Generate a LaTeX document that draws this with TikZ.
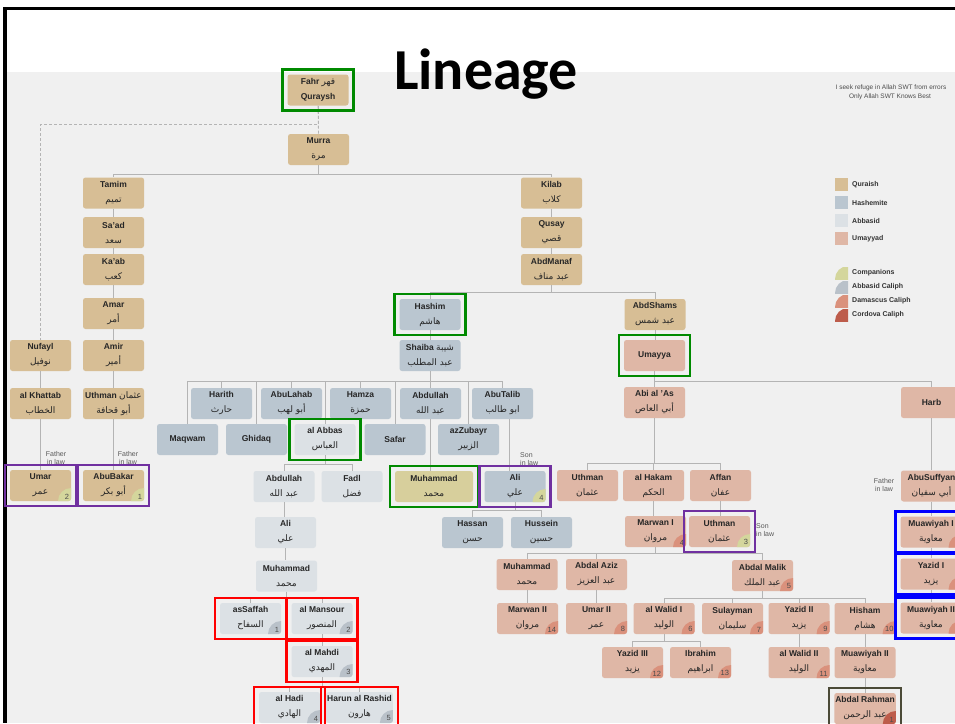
\documentclass[tikz,border=0pt]{standalone}
\usepackage{fontspec}
\setmainfont{Liberation Sans}
\newfontfamily\arabicfont[Script=Arabic]{DejaVu Sans}
\newfontfamily\titlefont{Carlito}
\TeXXeTstate=1
\usetikzlibrary{fit}

\definecolor{Slide}{HTML}{F0F0F0}
\definecolor{Quraish}{HTML}{D7BE95}
\definecolor{Hashemite}{HTML}{BAC6D0}
\definecolor{Abbasid}{HTML}{DCE1E5}
\definecolor{Umayyad}{HTML}{DFB7A6}
\definecolor{Prophet}{HTML}{D7CF9C}
\definecolor{Companion}{HTML}{D4D69C}
\definecolor{AbbasCal}{HTML}{B9C1C9}
\definecolor{DamasCal}{HTML}{DA917C}
\definecolor{CordCal}{HTML}{BD5C4B}
\definecolor{FrameGreen}{HTML}{008A00}
\definecolor{FramePurple}{HTML}{7030A0}
\definecolor{FrameRed}{HTML}{FF0000}
\definecolor{FrameBlue}{HTML}{0000FF}
\definecolor{FrameOlive}{HTML}{4B4A37}
\definecolor{Link}{HTML}{B4B4B4}

\newcommand{\arb}[1]{{\arabicfont\mdseries\fontsize{9}{15}\selectfont\beginR #1\endR}}

\begin{document}
\begin{tikzpicture}[x=1pt, y=-1pt,
  box/.style={fill=#1, rounded corners=2.5pt, minimum width=61pt, minimum height=31pt,
    inner sep=1pt, align=center, text=black!85, font=\bfseries\fontsize{8.5}{15}\selectfont},
  cal/.style 2 args={path picture={\fill[#1] (path picture bounding box.south east) circle (13pt);},
    label={[num]south east:#2}},
  num/.style={anchor=south east, inner sep=2pt, font=\fontsize{7.5}{8}\selectfont, text=black!70},
  frame/.style={draw=#1, line width=2.4pt, inner sep=4.8pt},
  link/.style={draw=Link, line width=0.8pt},
  dlink/.style={link, dash pattern=on 3pt off 2pt},
  note/.style={font=\fontsize{7}{8}\selectfont, text=black!65, inner sep=0pt},
  legend/.style={font=\bfseries\fontsize{7}{8}\selectfont, text=black!80, anchor=west, inner sep=0pt}]

  %%%%%%%%%% Slide %%%%%%%%%%
  \useasboundingbox (0,0) rectangle (955,723);
  \clip (0,0) rectangle (955,723);
  \fill[white] (0,0) rectangle (955,723);
  \fill[Slide] (7,72) rectangle (955,723);
  \fill[black] (3,7) rectangle (955,10);
  \fill[black] (3,7) rectangle (6.5,723);

  \node[font=\titlefont\bfseries\fontsize{58}{60}\selectfont, anchor=base] (title) at (486,89) {Lineage};
  \node[note, font=\fontsize{6.5}{7.5}\selectfont, text=black!70] (refuge) at (891,88) {I seek refuge in Allah SWT from errors};
  \node[note, font=\fontsize{6.5}{7.5}\selectfont, text=black!70] (best) at (890,97) {Only Allah SWT Knows Best};

  %%%%%%%%%% Legend %%%%%%%%%%
  \foreach \c/\t [count=\i] in {Quraish/Quraish, Hashemite/Hashemite, Abbasid/Abbasid, Umayyad/Umayyad} {
    \fill[\c] (835,160+18*\i) rectangle ++(13,13);
    \node[legend] (leg\i) at (852,166.5+18*\i) {\t};
  }
  \foreach \c/\t [count=\i] in {Companion/Companions, AbbasCal/Abbasid Caliph, DamasCal/Damascus Caliph, CordCal/Cordova Caliph} {
    \begin{scope}
      \clip (835,265+14*\i-12) rectangle (848,265+14*\i);
      \fill[\c] (848,265+14*\i) circle (13pt);
    \end{scope}
    \node[legend] (cleg\i) at (852,259+14*\i) {\t};
  }

  %%%%%%%%%% Quraish %%%%%%%%%%
  \node[box=Quraish] (fahr) at (318,90) {Fahr \arb{فهر}\\Quraysh};
  \node[box=Quraish] (murra) at (318.5,149.5) {Murra\\\arb{مرة}};
  \node[box=Quraish] (tamim) at (113.5,193) {Tamim\\\arb{تميم}};
  \node[box=Quraish] (saad) at (113.5,232.5) {Sa'ad\\\arb{سعد}};
  \node[box=Quraish] (kaab) at (113.5,269.5) {Ka'ab\\\arb{كعب}};
  \node[box=Quraish] (amar) at (113.5,313.5) {Amar\\\arb{أمر}};
  \node[box=Quraish] (amir) at (113.5,355.5) {Amir\\\arb{أمير}};
  \node[box=Quraish] (uthmanq) at (113.5,403.5) {Uthman \arb{عثمان}\\\arb{أبو قحافة}};
  \node[box=Quraish, cal={Companion}{1}] (abubakar) at (113.5,485.5) {AbuBakar\\\arb{أبو بكر}};
  \node[box=Quraish] (nufayl) at (40.5,355.5) {Nufayl\\\arb{نوفيل}};
  \node[box=Quraish] (khattab) at (40.5,403.5) {al Khattab\\\arb{الخطاب}};
  \node[box=Quraish, cal={Companion}{2}] (umar) at (40.5,485.5) {Umar\\\arb{عمر}};
  \node[box=Quraish] (kilab) at (551.5,193) {Kilab\\\arb{كلاب}};
  \node[box=Quraish] (qusay) at (551.5,232.5) {Qusay\\\arb{قصي}};
  \node[box=Quraish] (abdmanaf) at (551.5,269.5) {AbdManaf\\\arb{عبد مناف}};
  \node[box=Quraish] (abdshams) at (655,314.5) {AbdShams\\\arb{عبد شمس}};

  %%%%%%%%%% Hashemite %%%%%%%%%%
  \node[box=Hashemite] (hashim) at (430,314.5) {Hashim\\\arb{هاشم}};
  \node[box=Hashemite] (shaiba) at (430,355.5) {Shaiba \arb{شيبة}\\\arb{عبد المطلب}};
  \node[box=Hashemite] (harith) at (221.5,403.5) {Harith\\\arb{حارث}};
  \node[box=Hashemite] (abulahab) at (291.5,403.5) {AbuLahab\\\arb{أبو لهب}};
  \node[box=Hashemite] (hamza) at (360.5,403.5) {Hamza\\\arb{حمزة}};
  \node[box=Hashemite] (abdullah) at (430.5,403.5) {Abdullah\\\arb{عبد الله}};
  \node[box=Hashemite] (abutalib) at (502.5,403.5) {AbuTalib\\\arb{ابو طالب}};
  \node[box=Hashemite] (maqwam) at (187.5,439.5) {Maqwam};
  \node[box=Hashemite] (ghidaq) at (256.5,439.5) {Ghidaq};
  \node[box=Abbasid] (abbas) at (325,439.5) {al Abbas\\\arb{العباس}};
  \node[box=Hashemite] (safar) at (395,439.5) {Safar};
  \node[box=Hashemite] (zubayr) at (468.5,439.5) {azZubayr\\\arb{الزبير}};
  \node[box=Prophet, minimum width=78pt] (muhammad) at (434,486.5) {Muhammad\\\arb{محمد}};
  \node[box=Hashemite, cal={Companion}{4}] (ali) at (515,486.5) {Ali\\\arb{علي}};
  \node[box=Hashemite] (hassan) at (472.5,532.5) {Hassan\\\arb{حسن}};
  \node[box=Hashemite] (hussein) at (541.5,532.5) {Hussein\\\arb{حسين}};

  %%%%%%%%%% Abbasid %%%%%%%%%%
  \node[box=Abbasid] (abdullahb) at (284,486.5) {Abdullah\\\arb{عبد الله}};
  \node[box=Abbasid] (fadl) at (352,486.5) {Fadl\\\arb{فضل}};
  \node[box=Abbasid] (alib) at (285.5,532.5) {Ali\\\arb{علي}};
  \node[box=Abbasid] (muhammadb) at (286.5,576) {Muhammad\\\arb{محمد}};
  \node[box=Abbasid, cal={AbbasCal}{1}] (saffah) at (250.5,618.5) {asSaffah\\\arb{السفاح}};
  \node[box=Abbasid, cal={AbbasCal}{2}] (mansour) at (322,618.5) {al Mansour\\\arb{المنصور}};
  \node[box=Abbasid, cal={AbbasCal}{3}] (mahdi) at (322,661.5) {al Mahdi\\\arb{المهدي}};
  \node[box=Abbasid, cal={AbbasCal}{4}] (hadi) at (289.5,707.5) {al Hadi\\\arb{الهادي}};
  \node[box=Abbasid, cal={AbbasCal}{5}, minimum width=65pt] (harun) at (359.5,707.5) {Harun al Rashid\\\arb{هارون}};

  %%%%%%%%%% Umayyad %%%%%%%%%%
  \node[box=Umayyad] (umayya) at (654.5,355.5) {Umayya};
  \node[box=Umayyad] (abias) at (654.5,402.5) {Abi al 'As\\\arb{أبي العاص}};
  \node[box=Umayyad] (harb) at (931.5,402.5) {Harb};
  \node[box=Umayyad] (uthmanu) at (587.5,485.5) {Uthman\\\arb{عثمان}};
  \node[box=Umayyad] (hakam) at (653.5,485.5) {al Hakam\\\arb{الحكم}};
  \node[box=Umayyad] (affan) at (720.5,485.5) {Affan\\\arb{عفان}};
  \node[box=Umayyad] (abusuffyan) at (931.5,486) {AbuSuffyan\\\arb{أبي سفيان}};
  \node[box=Umayyad, cal={DamasCal}{4}] (marwan) at (655.5,531.5) {Marwan I\\\arb{مروان}};
  \node[box=Umayyad, cal={Companion}{3}] (uthman3) at (719.5,531.5) {Uthman\\\arb{عثمان}};
  \node[box=Umayyad, cal={DamasCal}{1}] (muawiyah1) at (931,532) {Muawiyah I\\\arb{معاوية}};
  \node[box=Umayyad, cal={DamasCal}{2}] (yazid1) at (931,574) {Yazid I\\\arb{يزيد}};
  \node[box=Umayyad, cal={DamasCal}{3}] (muawiyah2r) at (931,618) {Muawiyah II\\\arb{معاوية}};
  \node[box=Umayyad] (muhammadu) at (527,574.5) {Muhammad\\\arb{محمد}};
  \node[box=Umayyad] (abdalaziz) at (596.5,574.5) {Abdal Aziz\\\arb{عبد العزيز}};
  \node[box=Umayyad, cal={DamasCal}{5}] (abdalmalik) at (762.5,575.5) {Abdal Malik\\\arb{عبد الملك}};
  \node[box=Umayyad, cal={DamasCal}{14}] (marwan2) at (527.5,618.5) {Marwan II\\\arb{مروان}};
  \node[box=Umayyad, cal={DamasCal}{8}] (umar2) at (596.5,618.5) {Umar II\\\arb{عمر}};
  \node[box=Umayyad, cal={DamasCal}{6}] (walid1) at (664,618.5) {al Walid I\\\arb{الوليد}};
  \node[box=Umayyad, cal={DamasCal}{7}] (sulayman) at (732.5,618.5) {Sulayman\\\arb{سليمان}};
  \node[box=Umayyad, cal={DamasCal}{9}] (yazid2) at (799,618.5) {Yazid II\\\arb{يزيد}};
  \node[box=Umayyad, cal={DamasCal}{10}] (hisham) at (865,618.5) {Hisham\\\arb{هشام}};
  \node[box=Umayyad, cal={DamasCal}{12}] (yazid3) at (632.5,662.5) {Yazid III\\\arb{يزيد}};
  \node[box=Umayyad, cal={DamasCal}{13}] (ibrahim) at (700.5,662.5) {Ibrahim\\\arb{ابراهيم}};
  \node[box=Umayyad, cal={DamasCal}{11}] (walid2) at (799,662.5) {al Walid II\\\arb{الوليد}};
  \node[box=Umayyad] (muawiyah2) at (865,662.5) {Muawiyah II\\\arb{معاوية}};
  \node[box=Umayyad, cal={CordCal}{1}] (abdalrahman) at (865,708.5) {Abdal Rahman\\\arb{عبد الرحمن}};

  %%%%%%%%%% Links %%%%%%%%%%
  \draw[dlink] (fahr.south) -- (murra.north);
  \draw[dlink] (fahr.south) -- ++(0,19) -| (nufayl.north);
  \foreach \c in {tamim,kilab} \draw[link] (murra.south) -- ++(0,9) -| (\c.north);
  \foreach \a/\b in {tamim/saad, saad/kaab, kaab/amar, amar/amir, amir/uthmanq, uthmanq/abubakar,
      nufayl/khattab, khattab/umar, kilab/qusay, qusay/abdmanaf, hashim/shaiba, abdullah/muhammad,
      abdullahb/alib, alib/muhammadb, mansour/mahdi, abdshams/umayya, hakam/marwan, affan/uthman3,
      harb/abusuffyan, abusuffyan/muawiyah1, muawiyah1/yazid1, yazid1/muawiyah2r,
      muhammadu/marwan2, abdalaziz/umar2, yazid2/walid2, hisham/muawiyah2, muawiyah2/abdalrahman}
    \draw[link] (\a.south) -- (\a.south |- \b.north);
  \draw[link] ([xshift=6.5pt]abutalib.south) -- ([xshift=6.5pt]abutalib.south |- ali.north);
  \foreach \c in {hashim,abdshams} \draw[link] (abdmanaf.south) -- ++(0,7) -| (\c.north);
  \foreach \c in {harith,abulahab,hamza,abdullah,abutalib,maqwam,ghidaq,abbas,safar,zubayr}
    \draw[link] (shaiba.south) -- ++(0,10) -| (\c.north);
  \foreach \c in {abdullahb,fadl} \draw[link] (abbas.south) -- ++(0,9) -| (\c.north);
  \foreach \c in {hassan,hussein} \draw[link] (ali.south) -- ++(0,8) -| (\c.north);
  \foreach \c in {saffah,mansour} \draw[link] (muhammadb.south) -- ++(0,6) -| (\c.north);
  \foreach \c in {hadi,harun} \draw[link] (mahdi.south) -- ++(0,9) -| (\c.north);
  \foreach \c in {abias,harb} \draw[link] (umayya.south) -- ++(0,10) -| (\c.north);
  \foreach \c in {uthmanu,hakam,affan} \draw[link] (abias.south) -- ++(0,45) -| (\c.north);
  \foreach \c in {muhammadu,abdalaziz,abdalmalik} \draw[link] (marwan.south) -- ++(0,6) -| (\c.north);
  \foreach \c in {walid1,sulayman,yazid2,hisham} \draw[link] (abdalmalik.south) -- ++(0,7) -| (\c.north);
  \foreach \c in {yazid3,ibrahim} \draw[link] (walid1.south) -- ++(0,7) -| (\c.north);

  %%%%%%%%%% In law notes %%%%%%%%%%
  \node[note, align=center] (fil1) at (56,458) {Father\\in law};
  \node[note, align=center] (fil2) at (128,458) {Father\\in law};
  \node[note, align=center] (fil3) at (884,485) {Father\\in law};
  \node[note, align=left, anchor=west] (sil1) at (520,459) {Son\\in law};
  \node[note, align=left, anchor=west] (sil2) at (756,530) {Son\\in law};

  %%%%%%%%%% Frames %%%%%%%%%%
  \foreach \n in {fahr,hashim,abbas,muhammad,umayya} \node[frame=FrameGreen, fit=(\n)] (f\n) {};
  \foreach \n in {umar,abubakar,ali,uthman3} \node[frame=FramePurple, fit=(\n)] (f\n) {};
  \foreach \n in {saffah,mansour,mahdi,hadi,harun} \node[frame=FrameRed, fit=(\n)] (f\n) {};
  \foreach \n in {muawiyah1,yazid1,muawiyah2r} \node[frame=FrameBlue, fit=(\n)] (f\n) {};
  \node[frame=FrameOlive, fit=(abdalrahman)] (fabdalrahman) {};

\end{tikzpicture}
\end{document}
